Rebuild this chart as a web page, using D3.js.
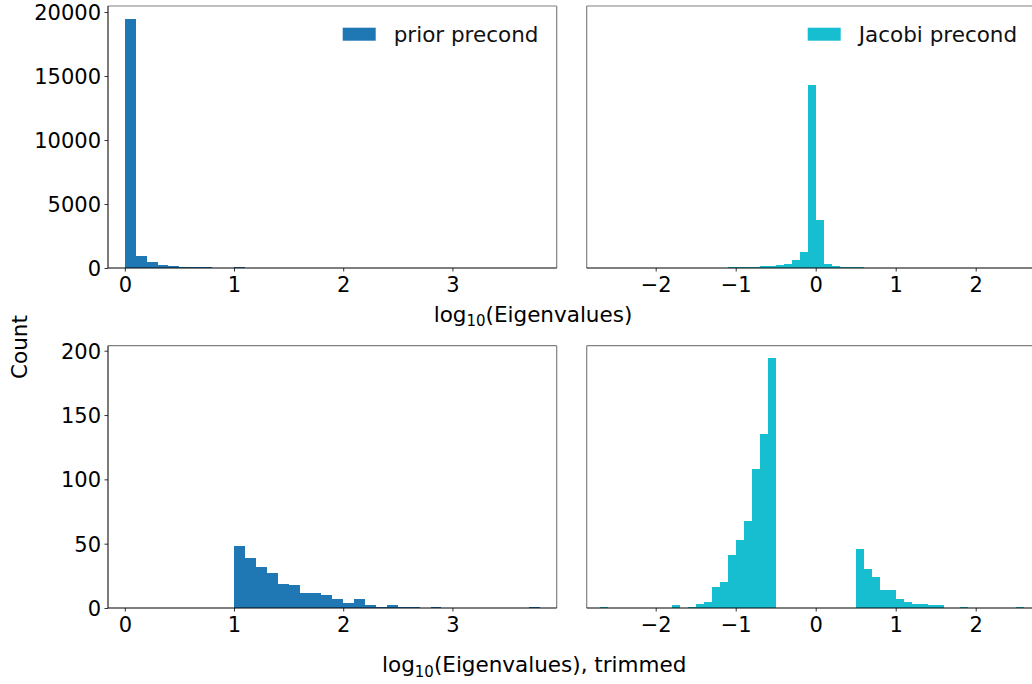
<!DOCTYPE html>
<html>
<head>
<meta charset="utf-8">
<script src="https://cdn.jsdelivr.net/npm/d3@7"></script>
<style>
  html, body { margin: 0; padding: 0; background: #fff; }
  svg { display: block; font-family: "DejaVu Sans", sans-serif; }
</style>
</head>
<body>
<svg id="chart" width="1032" height="684"></svg>
<script>
// ---- data ----
const binWidth = 0.1;

// prior-preconditioned log10 eigenvalue histogram, bins start at 0.0
const priorBinStart = 0.0;
const priorCounts = [
  19450, 937, 470, 234, 156, 90, 80, 70, 35, 30,
  48, 39, 32, 27, 19, 18, 12, 12, 10, 7,
  4, 7, 2, 1, 2, 1, 1, 0, 1, 0,
  0, 0, 0, 0, 0, 0, 0, 1
];
const priorTrimMin = 1.0;

// Jacobi-preconditioned log10 eigenvalue histogram, bins start at -2.7
const jacobiBinStart = -2.7;
const jacobiCounts = [
  1, 0, 0, 0, 0, 0, 0, 0, 0,            // -2.7 .. -1.9
  2, 0, 1, 3, 5, 16, 20, 41, 53, 68,    // -1.8 .. -0.9
  108, 135, 194, 230, 340, 620, 1250, 14300, // -0.8 .. -0.1
  3750, 340, 160, 70, 40,               // 0.0 .. 0.4
  46, 30, 24, 14, 14, 7, 5, 3, 3, 2,    // 0.5 .. 1.4
  2, 0, 0, 1, 0, 0, 0, 0, 0, 0, 1       // 1.5 .. 2.5
];
const jacobiTrimAbs = 0.5;

const priorXTicks = [0, 1, 2, 3];
const jacobiXTicks = [-2, -1, 0, 1, 2];
const topYTicks = [0, 5000, 10000, 15000, 20000];
const bottomYTicks = [0, 50, 100, 150, 200];

const legendLabels = ["prior precond", "Jacobi precond"];
const xLabelTop = "(Eigenvalues)";
const xLabelBottom = "(Eigenvalues), trimmed";
const yLabel = "Count";

// ---- helpers ----
function toBins(start, counts) {
  return counts.map((c, i) => {
    const x0 = Math.round((start + i * binWidth) * 10) / 10;
    return { x0: x0, x1: Math.round((x0 + binWidth) * 10) / 10, count: c };
  });
}
const priorBins = toBins(priorBinStart, priorCounts);
const jacobiBins = toBins(jacobiBinStart, jacobiCounts);
const priorTrimmed = priorBins.filter(d => d.x0 >= priorTrimMin - 1e-9);
const jacobiTrimmed = jacobiBins.filter(d => d.x1 <= -jacobiTrimAbs + 1e-9 || d.x0 >= jacobiTrimAbs - 1e-9);

// ---- layout ----
const svg = d3.select("#chart");
const C1 = "#1f77b4", C2 = "#17becf";
const colL = [108, 556.7], colR = [586.7, 1035];
const rowT = [6, 268], rowB = [345.7, 608];
const TICK_FS = 21, TEXT_FS = 21.5;

const xLeft = d3.scaleLinear().domain([-0.154, 3.955]).range(colL);
const xRight = d3.scaleLinear().domain([-2.8625, 2.741]).range(colR);
const yTop = d3.scaleLinear().domain([0, 20470]).range([rowT[1], rowT[0]]);
const yBot = d3.scaleLinear().domain([0, 203.9]).range([rowB[1], rowB[0]]);

const fmt = d3.format("d");

function panel(bins, x, y, row, col, color, xTicks, yTicks, showY, legend) {
  const g = svg.append("g");
  // bars
  g.append("g").selectAll("rect").data(bins.filter(d => d.count > 0)).join("rect")
    .attr("x", d => x(d.x0))
    .attr("width", d => x(d.x1) - x(d.x0))
    .attr("y", d => y(d.count))
    .attr("height", d => y(0) - y(d.count))
    .attr("fill", color)
    .attr("shape-rendering", "crispEdges");

  // x axis
  const xa = g.append("g").attr("transform", `translate(0,${row[1]})`)
    .call(d3.axisBottom(x).tickValues(xTicks).tickFormat(fmt).tickSize(3.5).tickSizeOuter(0).tickPadding(3.5));
  xa.select(".domain").remove();
  xa.selectAll(".tick line").attr("stroke", "#333");
  xa.selectAll(".tick text").attr("font-size", TICK_FS).attr("fill", "#000")
    .attr("font-family", "DejaVu Sans").attr("dy", "0.82em");

  if (showY) {
    const ya = g.append("g").attr("transform", `translate(${col[0]},0)`)
      .call(d3.axisLeft(y).tickValues(yTicks).tickFormat(fmt).tickSize(3.5).tickSizeOuter(0).tickPadding(3.5));
    ya.select(".domain").remove();
    ya.selectAll(".tick line").attr("stroke", "#333");
    ya.selectAll(".tick text").attr("font-size", TICK_FS).attr("fill", "#000")
      .attr("font-family", "DejaVu Sans").attr("dy", "0.36em");
  }

  // spines
  const sp = g.append("g").attr("fill", "none").attr("stroke-width", 1.2);
  sp.append("line").attr("x1", col[0]).attr("x2", col[1]).attr("y1", row[0]).attr("y2", row[0]).attr("stroke", "#808080");
  sp.append("line").attr("x1", col[1]).attr("x2", col[1]).attr("y1", row[0]).attr("y2", row[1]).attr("stroke", "#808080");
  sp.append("line").attr("x1", col[0]).attr("x2", col[0]).attr("y1", row[0]).attr("y2", row[1]).attr("stroke", showY ? "#222" : "#808080");
  sp.append("line").attr("x1", col[0]).attr("x2", col[1]).attr("y1", row[1]).attr("y2", row[1]).attr("stroke", "#000");

  if (legend) {
    const lx = legend.x, ly = legend.y;
    g.append("rect").attr("x", lx).attr("y", ly).attr("width", 33).attr("height", 13).attr("fill", color);
    g.append("text").attr("x", lx + 51).attr("y", ly + 14).attr("font-size", TEXT_FS).attr("fill", "#111")
      .text(legend.label);
  }
}

panel(priorBins, xLeft, yTop, rowT, colL, C1, priorXTicks, topYTicks, true, { x: 342.7, y: 27.7, label: legendLabels[0] });
panel(jacobiBins, xRight, yTop, rowT, colR, C2, jacobiXTicks, topYTicks, false, { x: 807.7, y: 27.7, label: legendLabels[1] });
panel(priorTrimmed, xLeft, yBot, rowB, colL, C1, priorXTicks, bottomYTicks, true, null);
panel(jacobiTrimmed, xRight, yBot, rowB, colR, C2, jacobiXTicks, bottomYTicks, false, null);

// axis labels
function logLabel(cx, baseline, rest) {
  const t = svg.append("text").attr("x", cx).attr("y", baseline)
    .attr("text-anchor", "middle").attr("font-size", TEXT_FS).attr("fill", "#000");
  t.append("tspan").text("log");
  t.append("tspan").attr("font-size", 15).attr("dy", 4.5).text("10");
  t.append("tspan").attr("dy", -4.5).text(rest);
}
logLabel(533, 321.7, xLabelTop);
logLabel(534.2, 672.3, xLabelBottom);

svg.append("text").attr("transform", "translate(26.5,347) rotate(-90)")
  .attr("text-anchor", "middle").attr("font-size", TEXT_FS).attr("fill", "#000").text(yLabel);
</script>
</body>
</html>
